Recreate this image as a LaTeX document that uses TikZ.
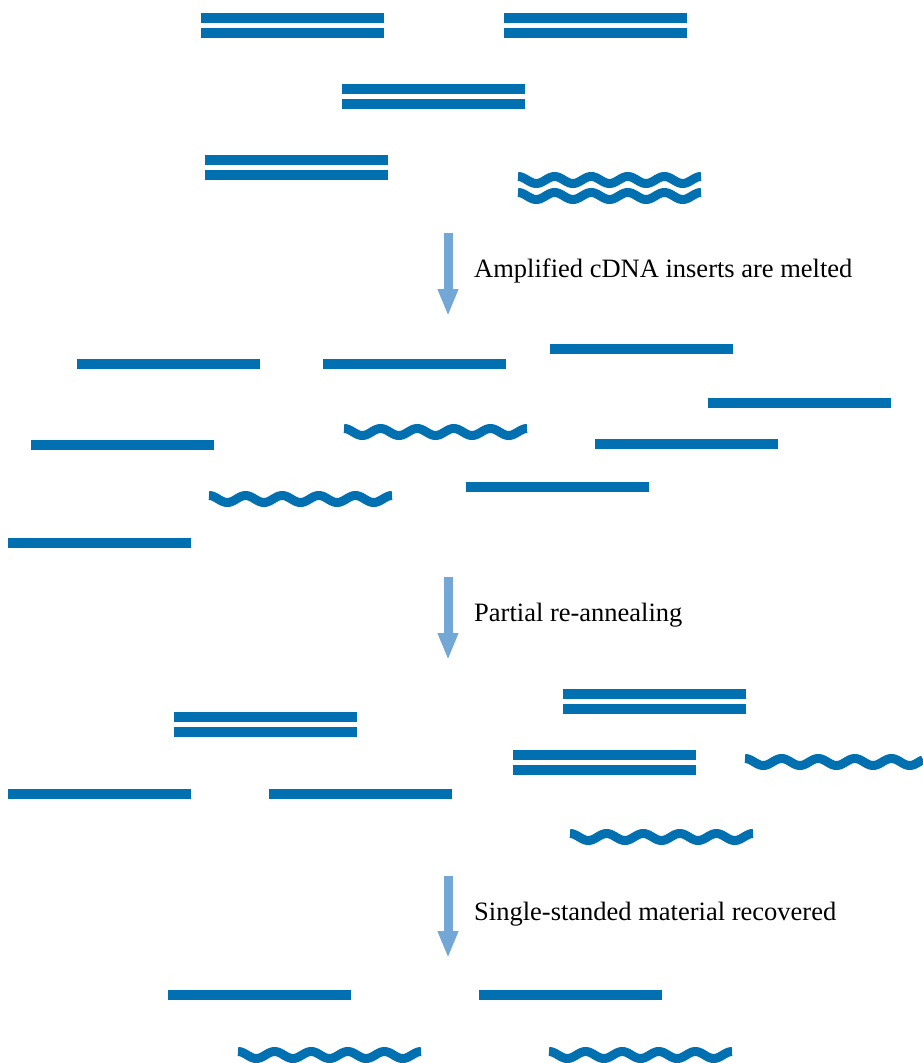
\documentclass[tikz,border=0pt]{standalone}
\usepackage{fontspec}
\setmainfont{Liberation Serif}
\usetikzlibrary{arrows.meta}
\definecolor{dna}{HTML}{0070B0}\definecolor{steparr}{HTML}{72A7D6}
\newcommand{\strand}[2]{\draw[strand] ({#1},{#2})--++(183,0);}
\newcommand{\duplex}[2]{\strand{#1}{#2}\strand{#1}{#2+15}}
\newcommand{\wavy}[3][183]{\draw[wave] plot[domain=0:#1,samples=140] ({#2+\x},{#3-3.5*cos(\x*9.836)});}
\tikzset{strand/.style={dna,line width=10pt},wave/.style={dna,line width=9pt},
stepline/.style={steparr,line width=9pt,-{Triangle[width=19pt,length=27pt]}},
steptext/.style={anchor=base west,inner sep=0pt,font=\fontsize{26.5}{30}\selectfont}}

\begin{document}
\begin{tikzpicture}[x=1pt,y=-1pt]
\useasboundingbox (0,0) rectangle (923,1063);
\duplex{201}{18}\duplex{504}{18}\duplex{342}{89}\duplex{205}{160}
\wavy{518}{180}\wavy{518}{196}
\coordinate (s1) at (448,233);\coordinate (e1) at (448,316);
\draw[stepline] (s1)--(e1);\node[steptext] (melt) at (474,277){Amplified cDNA inserts are melted};
\strand{77}{364}\strand{323}{364}\strand{550}{349}\strand{708}{403}
\strand{31}{445}\wavy{344}{432}\strand{595}{444}
\wavy{209}{499}\strand{466}{487}\strand{8}{543}
\coordinate (s2) at (448,577);\coordinate (e2) at (448,660);
\draw[stepline] (s2)--(e2);\node[steptext] (anneal) at (474,621){Partial re-annealing};
\duplex{563}{694}\duplex{174}{717}\duplex{513}{755}\wavy[178]{745}{762}
\strand{8}{794}\strand{269}{794}\wavy{570}{837}
\coordinate (s3) at (448,876);\coordinate (e3) at (448,958);
\draw[stepline] (s3)--(e3);\node[steptext] (recov) at (474,920){Single-standed material recovered};
\strand{168}{995}\strand{479}{995}
\wavy{238}{1055}\wavy{549}{1055}
\end{tikzpicture}
\end{document}
